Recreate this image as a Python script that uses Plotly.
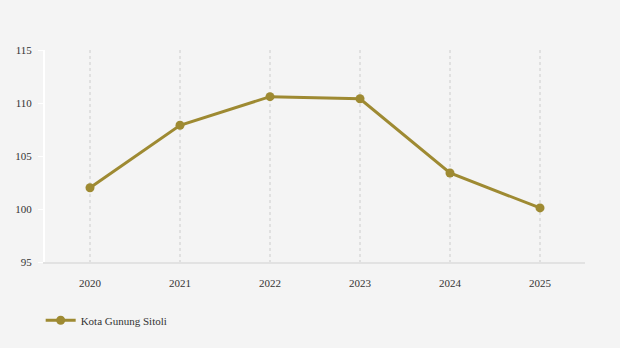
import plotly.graph_objects as go

years = [2020, 2021, 2022, 2023, 2024, 2025]
values = [102.0, 107.9, 110.6, 110.4, 103.4, 100.1]
series_name = "Kota Gunung Sitoli"
y_ticks = [95, 100, 105, 110, 115]

color = "#9e8a32"
bg = "#f4f4f4"
font = "Times New Roman"

fig = go.Figure()
fig.add_trace(go.Scatter(
    x=years, y=values, name=series_name, mode="lines+markers",
    line=dict(color=color, width=3),
    marker=dict(color=color, size=9),
))

fig.update_layout(
    width=620, height=348,
    paper_bgcolor=bg, plot_bgcolor=bg,
    margin=dict(l=45, r=35, t=50, b=86),
    font=dict(family=font, size=11, color="#333333"),
    showlegend=True,
    legend=dict(orientation="h", x=-0.008, xanchor="left", y=-0.275, yanchor="middle",
                font=dict(family=font, size=11, color="#333333"), bgcolor="rgba(0,0,0,0)"),
    xaxis=dict(
        range=[2019.5, 2025.5], tickvals=years, ticktext=[str(y) for y in years],
        showgrid=True, gridcolor="#e0e0e0", griddash="3px,3px", gridwidth=2,
        showline=True, linecolor="#e2e2e2", linewidth=2,
        ticks="outside", ticklen=10, tickcolor="rgba(0,0,0,0)",
        zeroline=False, fixedrange=True,
    ),
    yaxis=dict(
        range=[95, 115], tickvals=y_ticks,
        showgrid=False, zeroline=False,
        showline=True, linecolor="#ffffff", linewidth=2,
        ticks="outside", ticklen=5, tickcolor="#ffffff", tickwidth=1,
        ticklabelstandoff=4,
        fixedrange=True,
    ),
)

fig.write_html("out.html")
